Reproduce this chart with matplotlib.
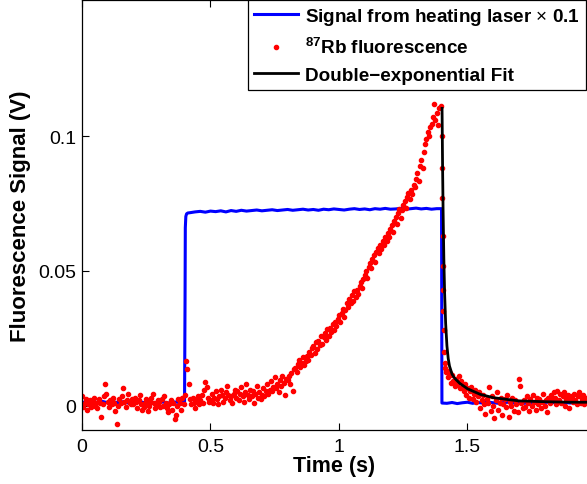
import numpy as np
import matplotlib
matplotlib.use("Agg")
import matplotlib.pyplot as plt

plt.rcParams['font.family'] = ['Liberation Sans', 'DejaVu Sans']
plt.rcParams['mathtext.fontset'] = 'custom'
plt.rcParams['mathtext.rm'] = 'Liberation Sans'
plt.rcParams['mathtext.bf'] = 'Liberation Sans:bold'

# ---- heating laser signal (x 0.1), in mV ----
blue_pre = [1.2, 1.5, 1.0, 1.3, 1.6, 1.1, 1.4, 1.2, 1.5, 1.0,
            1.3, 1.6, 1.2, 1.4, 1.1, 1.5, 1.3, 1.0, 1.4, 1.2]
blue_rise_t = [0.399, 0.401, 0.402, 0.404, 0.407, 0.412]
blue_rise = [1.3, 40.0, 66.0, 70.2, 71.2, 71.5]
blue_plateau = [71.6, 71.9, 72.1, 71.8, 72.2, 72.0, 72.3, 71.9, 72.4, 72.1,
                72.5, 72.2, 72.4, 72.6, 72.3, 72.5, 72.7, 72.4, 72.6, 72.8,
                72.5, 72.7, 72.9, 72.6, 72.8, 72.5, 72.9, 72.7, 73.0, 72.8,
                72.6, 72.9, 73.1, 72.8, 73.0, 72.7, 73.1, 72.9, 73.2, 72.9,
                73.0, 73.2, 72.9, 73.1, 73.3, 73.0, 73.2, 72.9, 73.1]
blue_fall_t = [1.399, 1.4005]
blue_fall = [73.1, 1.0]
blue_post = [0.9, 1.2, 0.8, 1.1, 1.3, 0.9, 1.2, 1.0, 1.4, 1.1,
             0.9, 1.2, 1.3, 1.0, 1.2, 0.9, 1.1, 1.3, 1.0, 1.2,
             1.4, 1.1, 0.9, 1.2, 1.0, 1.3, 1.1, 1.2]

# ---- 87Rb fluorescence, in mV (5 ms grid up to the laser turn-off) ----
red_main = [
    3.5, -0.5, 1.0, 2.5, -1.5, 0.5, 2.0, -0.5, 1.5, 3.0, 0.0, 1.0, -1.0, 2.5, 1.0, -4.3, 0.5, 3.5, 8.0, 4.5,
    1.5, -0.5, 2.0, 0.5, 3.0, 1.0, -2.0, -6.9, 0.0, 2.5, 1.0, 3.5, 6.5, 1.5, -0.5, 2.0, 4.5, 1.0, 0.5, 2.5,
    0.5, 3.0, 1.5, -1.0, 2.0, 4.0, 0.5, -1.5, -0.5, 1.0, 2.5, -2.0, 0.0, 1.5, 3.0, 4.5, 1.0, -1.0, 0.5, 2.0,
    1.5, -0.5, 2.5, 0.0, 3.5, 1.0, -1.0, -2.5, 0.5, 2.0, -1.5, 1.0, -5.0, -3.5, 0.0, 2.5, 1.0, -1.5, 3.0, 0.5,
    4.0, 16.7, 13.7, 8.0, 2.5, 0.5, 3.0, 1.0, -1.0, 2.0, 3.5, 0.5, 2.0, 4.0, 1.0, 6.0, 8.9, 7.0, 3.0, 1.5,
    2.0, 4.5, 1.0, 3.0, 5.5, 2.5, 0.5, 3.5, 6.0, 4.0, 1.5, 3.0, 5.0, 7.5, 4.0, 2.0, 3.5, 1.0, 4.5, 6.0,
    3.0, 5.5, 2.0, 4.5, 7.0, 3.5, 1.5, 5.0, 8.0, 4.0, 2.5, 6.0, 3.5, 5.5, 1.0, 4.5, 7.5, 3.0, 5.0, 2.5,
    4.0, 6.5, 3.5, 5.5, 8.0, 4.5, 6.0, 9.0, 5.5, 7.0, 10.5, 6.5, 8.0, 5.0, 9.5, 7.5, 11.0, 8.5, 4.0, 10.0,
    9.5, 11.0, 8.0, 12.0, 5.5, 13.5, 14.0, 12.5, 15.5, 17.0, 14.5, 16.0, 18.0, 15.0, 16.5, 18.5, 17.0, 20.0, 19.0, 21.5,
    22.0, 19.5, 23.5, 21.0, 24.0, 22.5, 26.0, 23.0, 25.5, 27.0, 24.5, 28.5, 26.0, 29.0, 27.5, 30.5, 28.0, 31.0, 29.5, 32.0,
    33.5, 31.0, 34.5, 36.0, 33.0, 35.5, 38.0, 36.5, 39.5, 38.0, 41.0, 39.0, 42.5, 40.5, 43.0, 41.5, 44.5, 46.0, 43.5, 47.0,
    48.5, 50.0, 47.5, 51.5, 53.0, 51.0, 54.5, 56.0, 53.5, 57.0, 58.5, 56.5, 59.5, 58.0, 61.0, 59.5, 62.5, 61.0, 64.0, 62.5,
    65.5, 67.0, 64.5, 68.5, 70.0, 67.5, 71.5, 73.0, 69.5, 72.5, 74.5, 76.0, 73.5, 77.5, 79.0, 76.5, 80.0, 78.5, 82.0, 81.0,
    84.0, 86.5, 83.5, 89.0, 91.0, 88.0, 94.0, 97.0, 99.0, 101.5, 100.0, 103.5, 104.5, 107.0, 112.0, 106.0, 108.5, 104.0, 110.5, 111.0,
]
red_fall_t = [1.400, 1.401, 1.402, 1.403, 1.404, 1.405, 1.406, 1.408, 1.410, 1.412, 1.414, 1.416]
red_fall = [100.0, 88.0, 77.0, 63.0, 52.0, 43.0, 35.0, 28.0, 20.0, 16.0, 14.0, 12.5]
red_tail = [
    13.0, 10.5, 12.0, 8.5, 11.5, 9.0, 7.5, 10.0, 8.0, 11.0, 6.5, 9.0, 7.0, 5.5, 8.0, 4.0, 6.5, 3.0, 5.5, 7.0,
    2.5, 4.5, 6.0, 1.5, 3.5, 5.0, -1.0, 2.0, 4.0, 0.5, -3.0, 2.5, 1.0, 7.0, -2.0, 3.5, 0.0, -4.5, 2.0, 5.0,
    -1.5, 1.0, 3.0, -3.5, 0.5, 2.5, -0.5, 4.0, -4.0, 1.5, 0.0, 3.0, -2.0, 2.0, 0.5, -2.5, 10.0, 7.5, 1.0, -1.0,
    2.0, -0.5, 3.5, 1.0, -2.0, 2.5, 0.0, 4.0, 1.5, -1.5, 3.0, 0.5, 2.5, -1.0, 1.5, 4.5, 0.0, 2.0, -2.5, 3.0,
    1.0, 4.0, 2.5, 5.0, 3.0, 0.5, 5.5, 2.0, 4.5, 1.0, 3.5, 5.0, 0.0, 2.5, 4.0, -1.0, 2.0, 3.5, 1.5, 4.5,
    2.0, 0.5, 3.5, 5.0, 1.0, 2.5, 4.0, 0.5, 3.0, 1.5,
]

# ---- double-exponential fit, in mV ----
fit_t = [1.401, 1.403, 1.405, 1.408, 1.411, 1.415, 1.420, 1.425, 1.430, 1.440,
         1.450, 1.470, 1.500, 1.550, 1.600, 1.700, 1.800, 1.900, 1.970]
fit_v = [110.3, 89.2, 72.7, 54.4, 41.7, 30.5, 22.2, 17.5, 14.7, 11.7,
         10.2, 8.3, 6.3, 4.2, 3.0, 1.8, 1.5, 1.3, 1.3]

# assemble time axes
blue_t = np.concatenate([np.arange(20) * 0.02, blue_rise_t,
                         0.42 + np.arange(49) * 0.02, blue_fall_t,
                         1.42 + np.arange(28) * 0.02])
blue_v = np.array(blue_pre + blue_rise + blue_plateau + blue_fall + blue_post) * 1e-3
red_t = np.concatenate([np.arange(len(red_main)) * 0.005, red_fall_t,
                        1.42 + np.arange(len(red_tail)) * 0.005])
red_v = np.array(red_main + red_fall + red_tail) * 1e-3

fig = plt.figure(figsize=(5.87, 4.85), dpi=100)
ax = fig.add_axes([82 / 587, 54 / 485, 1 - 82 / 587, 430 / 485])

ax.plot(blue_t, blue_v, '-', color='#0000ff', lw=2.2,
        label=r'Signal from heating laser $\times$ 0.1')
ax.plot(red_t, red_v, 'o', color='#ff0000', ms=3.0, mec='#ff0000',
        label=r'$^{\mathbf{87}}$Rb fluorescence')
ax.plot(fit_t, np.array(fit_v) * 1e-3, '-', color='black', lw=2.0,
        label='Double\u2212exponential Fit')

ax.set_xlim(0, 1.965)
ax.set_ylim(-0.009, 0.1505)
ax.set_xticks([0, 0.5, 1, 1.5])
ax.set_xticklabels(['0', '0.5', '1', '1.5'])
ax.set_yticks([0, 0.05, 0.1])
ax.set_yticklabels(['0', '0.05', '0.1'])
ax.tick_params(direction='in', top=True, right=False, labelsize=14, length=5, width=0.8, pad=4)
ax.tick_params(axis='x', pad=6)
ax.spines['right'].set_visible(False)
for s in ['left', 'bottom', 'top']:
    ax.spines[s].set_linewidth(0.9)

ax.set_xlabel('Time (s)', fontsize=15.5, fontweight='bold', labelpad=0)
ax.set_ylabel('Fluorescence Signal (V)', fontsize=16, fontweight='bold', labelpad=5)

leg = ax.legend(loc='upper left', bbox_to_anchor=(166 / 505, 1.0),
                prop={'weight': 'bold', 'size': 13.6}, numpoints=1, handlelength=2.35,
                fancybox=False, edgecolor='black', framealpha=1, borderpad=0.32,
                labelspacing=0.5, handletextpad=0.35, borderaxespad=0)
leg.get_frame().set_linewidth(0.9)

fig.savefig('out.png', dpi=100)
